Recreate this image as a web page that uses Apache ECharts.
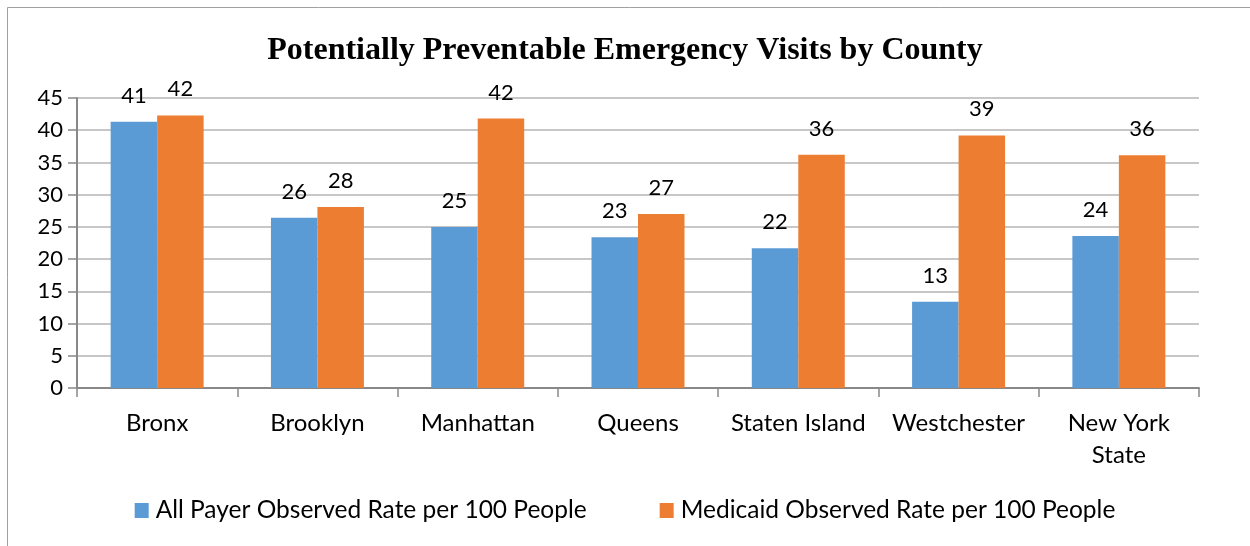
<!DOCTYPE html>
<html lang="en">
<head>
    <meta charset="UTF-8">
    <title>Potentially Preventable Emergency Visits by County</title>
    <script src="https://cdn.jsdelivr.net/npm/echarts@6/dist/echarts.min.js"></script>
    <style>
        html, body { margin: 0; padding: 0; background: #fff; }
        #main { width: 1250px; height: 546px; }
    </style>
</head>
<body>
<div id="main"></div>
<script>
    // counties on the x axis
    var counties = ['Bronx', 'Brooklyn', 'Manhattan', 'Queens', 'Staten Island', 'Westchester', 'New York\nState'];
    // rates per 100 people
    var allPayer = [41.3, 26.4, 25.0, 23.4, 21.7, 13.4, 23.6];
    var medicaid = [42.3, 28.1, 41.8, 27.0, 36.2, 39.2, 36.1];
    var seriesNames = ['All Payer Observed Rate per 100 People', 'Medicaid Observed Rate per 100 People'];

    var bodyFont = 'Lato, "Open Sans", sans-serif';

    var myChart = echarts.init(document.getElementById('main'));
    var labelOpt = {
        show: true,
        position: 'top',
        distance: 15,
        color: '#000',
        fontFamily: bodyFont,
        fontSize: 22,
        formatter: function (p) { return Math.round(p.value); }
    };
    var option = {
        animation: false,
        title: {
            text: 'Potentially Preventable Emergency Visits by County',
            left: 'center',
            top: 30,
            textStyle: {
                fontFamily: '"Liberation Serif", "Times New Roman", serif',
                fontWeight: 'bold',
                fontSize: 32,
                color: '#000'
            }
        },
        graphic: [{
            type: 'rect',
            shape: { x: 7.5, y: 7.5, width: 1260, height: 560 },
            style: { fill: 'none', stroke: '#a0a0a0', lineWidth: 1 },
            silent: true
        }],
        legend: {
            bottom: 18,
            left: 'center',
            itemWidth: 14,
            itemHeight: 15,
            itemGap: 73,
            icon: 'rect',
            data: seriesNames,
            textStyle: { fontFamily: bodyFont, fontSize: 24.5, color: '#000', padding: [0, 0, 0, 2] }
        },
        grid: { left: 77, right: 51, top: 98, bottom: 158 },
        xAxis: {
            type: 'category',
            data: counties,
            axisLine: { lineStyle: { color: '#888', width: 2 } },
            axisTick: { show: true, length: 9, alignWithLabel: false, lineStyle: { color: '#888', width: 1.5 } },
            axisLabel: {
                color: '#000',
                fontFamily: bodyFont,
                fontSize: 24,
                margin: 19,
                lineHeight: 32,
                interval: 0
            }
        },
        yAxis: {
            type: 'value',
            min: 0,
            max: 45,
            interval: 5,
            axisLine: { show: true, lineStyle: { color: '#888', width: 2 } },
            axisTick: { show: true, length: 9, lineStyle: { color: '#888', width: 1.5 } },
            axisLabel: { color: '#000', fontFamily: bodyFont, fontSize: 22, margin: 14 },
            splitLine: { lineStyle: { color: '#b4b4b4', width: 1.5 } }
        },
        series: [
            {
                name: seriesNames[0],
                type: 'bar',
                data: allPayer,
                barGap: '0%',
                barCategoryGap: '42%',
                itemStyle: { color: '#5B9BD5' },
                label: labelOpt
            },
            {
                name: seriesNames[1],
                type: 'bar',
                data: medicaid,
                itemStyle: { color: '#ED7D31' },
                label: labelOpt
            }
        ]
    };
    myChart.setOption(option);
</script>
</body>
</html>
